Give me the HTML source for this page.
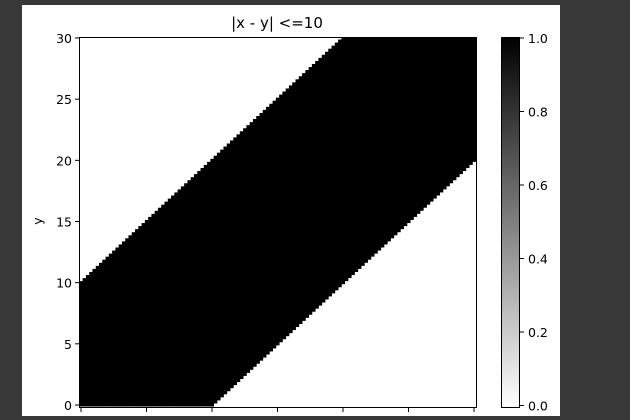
<!DOCTYPE html>
<html><head><meta charset="utf-8"><style>
body{margin:0;background:#383838;width:630px;height:420px;overflow:hidden;font-family:"DejaVu Sans","Liberation Sans",sans-serif}
svg{position:absolute;left:0;top:0}
</style></head><body>
<svg id="chart" width="630" height="420" xmlns="http://www.w3.org/2000/svg">
<rect x="22" y="5" width="538" height="411" fill="#fff"/>
<g id="cells"></g>
<rect x="79.5" y="37.5" width="397" height="370" fill="none" stroke="#000" stroke-width="1"/>
<g id="axes" font-size="12.5" fill="#000"></g>
<text x="277" y="28" font-size="15" text-anchor="middle">|x - y| &lt;=10</text>
<text x="0" y="0" font-size="12.5" text-anchor="middle" transform="translate(42,221) rotate(-90)">y</text>
<defs><linearGradient id="cb" x1="0" y1="1" x2="0" y2="0"><stop offset="0" stop-color="#fff"/><stop offset="1" stop-color="#000"/></linearGradient></defs>
<rect x="501.5" y="37.5" width="18" height="370" fill="url(#cb)" stroke="#000" stroke-width="1"/>
<g id="cbaxis" font-size="12.5"></g>
</svg>
<script>
const threshold = 10;
const nCells = 120;
const xRange = [0, 30];
const yRange = [0, 30];
const xTicks = [0, 5, 10, 15, 20, 25, 30];
const yTicks = [0, 5, 10, 15, 20, 25, 30];
const cbTicks = ["0.0", "0.2", "0.4", "0.6", "0.8", "1.0"];
const NS = "http://www.w3.org/2000/svg";
const X = v => 81 + (v - 0) * (474 - 81) / 30;
const Y = v => 405 - (v - 0) * (405 - 38) / 30;
const step = (xRange[1] - xRange[0]) / nCells;
const cells = document.getElementById('cells');
for (let i = 0; i <= nCells; i++) {
  const xv = xRange[0] + i * step;
  let lo = null, hi = null;
  for (let j = 0; j <= nCells; j++) {
    const yv = yRange[0] + j * step;
    if (Math.abs(xv - yv) <= threshold) { if (lo === null) lo = yv; hi = yv; }
  }
  if (lo === null) continue;
  const x0 = Math.max(79.5, X(xv - step / 2)), x1 = Math.min(476.5, X(xv + step / 2));
  const y0 = Math.max(37.5, Y(hi + step / 2)), y1 = Math.min(407.5, Y(lo - step / 2));
  const r = document.createElementNS(NS, 'rect');
  
  
  r.setAttribute('x', x0); r.setAttribute('y', y0);
  r.setAttribute('width', x1 - x0 + 0.4); r.setAttribute('height', y1 - y0);
  r.setAttribute('fill', '#000');
  cells.appendChild(r);
}
const axes = document.getElementById('axes');
yTicks.forEach(t => {
  const l = document.createElementNS(NS, 'line');
  
  
  l.setAttribute('x1', 75); l.setAttribute('x2', 79.5); l.setAttribute('y1', Y(t)); l.setAttribute('y2', Y(t));
  l.setAttribute('stroke', '#000');
  axes.appendChild(l);
  const s = document.createElementNS(NS, 'text');
  
  
  s.setAttribute('x', 72); s.setAttribute('y', Y(t) + 5); s.setAttribute('text-anchor', 'end');
  s.textContent = t;
  axes.appendChild(s);
});
xTicks.forEach(t => {
  const l = document.createElementNS(NS, 'line');
  
  
  l.setAttribute('x1', X(t)); l.setAttribute('x2', X(t)); l.setAttribute('y1', 407.5); l.setAttribute('y2', 412);
  l.setAttribute('stroke', '#000');
  axes.appendChild(l);
});
const cb = document.getElementById('cbaxis');
cbTicks.forEach((t, i) => {
  const y = 405.5 - i * (405.5 - 38) / 5;
  const l = document.createElementNS(NS, 'line');
  
  
  l.setAttribute('x1', 519.5); l.setAttribute('x2', 524); l.setAttribute('y1', y); l.setAttribute('y2', y);
  l.setAttribute('stroke', '#000');
  cb.appendChild(l);
  const s = document.createElementNS(NS, 'text');
  
  
  s.setAttribute('x', 528); s.setAttribute('y', y + 5);
  s.textContent = t;
  cb.appendChild(s);
});
</script>
</body></html>
